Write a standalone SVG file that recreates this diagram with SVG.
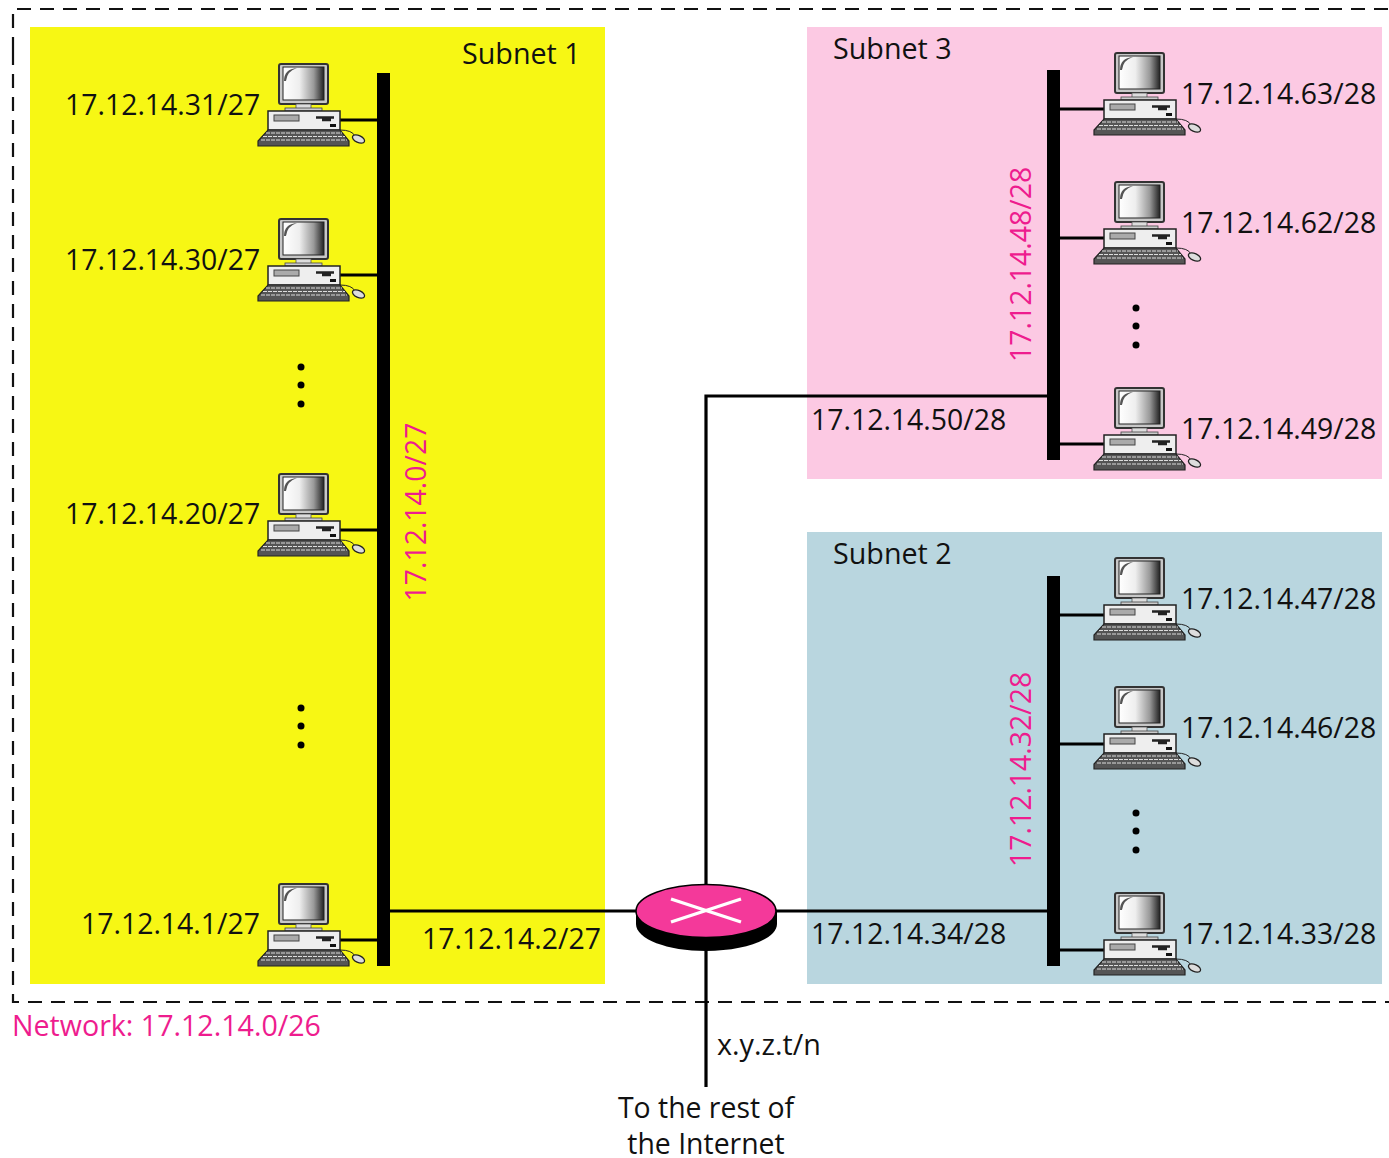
<svg xmlns="http://www.w3.org/2000/svg" xmlns:xlink="http://www.w3.org/1999/xlink" width="1389" height="1158" viewBox="0 0 1389 1158">
<style>
text{font-family:"Open Sans","Noto Sans",sans-serif;font-size:28.4px;fill:#111}
.m{fill:#ee1c8e}
.wide{font-size:28.7px}
.bus{fill:#000}
.w{stroke:#000;stroke-width:3.2;fill:none}
</style>
<defs>
<linearGradient id="scr" x1="0" x2="1" y1="0" y2="0"><stop offset="0" stop-color="#fff"/><stop offset=".4" stop-color="#eee"/><stop offset=".75" stop-color="#999"/><stop offset="1" stop-color="#222"/></linearGradient>
<g id="pc">
<rect x="279" y="64" width="49" height="40" rx="2" fill="#c8c8c8" stroke="#333" stroke-width="2"/>
<rect x="283" y="67" width="41" height="33" fill="url(#scr)" stroke="#222" stroke-width="1"/>
<path d="M284 81Q284 69 297 68Q287 71 286 81Z" fill="#555"/>
<rect x="296" y="104" width="15" height="5" fill="#ddd" stroke="#555" stroke-width=".8"/>
<rect x="285" y="108" width="37" height="3" fill="#ccc" stroke="#444" stroke-width=".8"/>
<rect x="268" y="111" width="72" height="19" fill="#eee" stroke="#222" stroke-width="1.5"/>
<rect x="274" y="115" width="25" height="6" fill="#aaa" stroke="#444"/>
<path d="M316 117.500h18M322 120h9" stroke="#222" stroke-width="2.400"/>
<rect x="330" y="124" width="6" height="3" fill="#111"/>
<path d="M268 130H340L349 141V146H258V141Z" fill="#555" stroke="#222" stroke-width="1.200"/>
<path d="M266 133h76M263 136.500h82M261 140h86" stroke="#ddd" stroke-width="1" stroke-dasharray="4 1"/>
<path d="M340 130q12 0 15 6" fill="none" stroke="#222"/>
<ellipse cx="358.500" cy="139" rx="6.500" ry="3.500" transform="rotate(25 358.500 139)" fill="#ddd" stroke="#222" stroke-width="1.300"/>
</g>
<g id="dots"><circle cx="0" cy="0" r="3.500"/><circle cx="0" cy="18" r="3.500"/><circle cx="0" cy="37" r="3.500"/></g>
</defs>
<rect width="1389" height="1158" fill="#fff"/>
<g id="subnets">
<rect id="subnet1" x="30" y="27" width="575" height="957" fill="#f7f714"/>
<rect id="subnet3" x="807" y="27" width="575" height="452" fill="#fcc9e3"/>
<rect id="subnet2" x="807" y="532" width="575" height="452" fill="#b9d6df"/>
</g>
<path id="network" d="M13 51V9H1389M13 51V1002H1389" fill="none" stroke="#111" stroke-width="2.200" stroke-dasharray="14 9"/>
<g id="connectors">
<path class="w" d="M340 120H378M340 275H378M340 530H378M340 940H378M390 911H637M776 911H1047M706 885V396H1047M706 950V1087M1060 109H1105M1060 238H1105M1060 444H1105M1060 615H1105M1060 744H1105M1060 950H1105"/>
<rect class="bus" x="377" y="73" width="13" height="893"/>
<rect class="bus" x="1047" y="70" width="13" height="390"/>
<rect class="bus" x="1047" y="576" width="13" height="390"/>
</g>
<g id="router">
<path d="M636 911V924C636 939 667 951 706 951S777 939 777 924V911Z" fill="#000"/>
<ellipse cx="706" cy="911" rx="70" ry="26.500" fill="#f4399a" stroke="#000" stroke-width="1.500"/>
<path d="M671 899L741 922M671 922L741 899" stroke="#fff" stroke-width="3.400"/>
</g>
<g id="pc1"><use href="#pc"/><text x="65" y="115">17.12.14.31/27</text></g>
<g id="pc2"><use href="#pc" transform="translate(0 155)"/><text x="65" y="270">17.12.14.30/27</text></g>
<g id="pc3"><use href="#pc" transform="translate(0 410)"/><text x="65" y="524">17.12.14.20/27</text></g>
<g id="pc4"><use href="#pc" transform="translate(0 820)"/><text x="81" y="934">17.12.14.1/27</text></g>
<g id="pc5"><use href="#pc" transform="translate(836 -11)"/><text x="1181" y="104">17.12.14.63/28</text></g>
<g id="pc6"><use href="#pc" transform="translate(836 118)"/><text x="1181" y="233">17.12.14.62/28</text></g>
<g id="pc7"><use href="#pc" transform="translate(836 324)"/><text x="1181" y="439">17.12.14.49/28</text></g>
<g id="pc8"><use href="#pc" transform="translate(836 494)"/><text x="1181" y="609">17.12.14.47/28</text></g>
<g id="pc9"><use href="#pc" transform="translate(836 623)"/><text x="1181" y="738">17.12.14.46/28</text></g>
<g id="pc10"><use href="#pc" transform="translate(836 829)"/><text x="1181" y="944">17.12.14.33/28</text></g>
<use href="#dots" x="301" y="367"/>
<use href="#dots" x="301" y="708"/>
<use href="#dots" x="1136" y="308"/>
<use href="#dots" x="1136" y="813"/>
<g id="labels">
<text class="wide" x="462" y="64">Subnet 1</text>
<text class="wide" x="833" y="59">Subnet 3</text>
<text class="wide" x="833" y="564">Subnet 2</text>
<text x="811" y="430">17.12.14.50/28</text>
<text x="811" y="944">17.12.14.34/28</text>
<text x="422" y="949">17.12.14.2/27</text>
<text class="m" transform="translate(425.500 601.500) rotate(-90)">17.12.14.0/27</text>
<text class="m" transform="translate(1031 362) rotate(-90)">17.12.14.48/28</text>
<text class="m" transform="translate(1031 867) rotate(-90)">17.12.14.32/28</text>
<text class="m" x="12" y="1036" style="font-size:28.6px">Network: 17.12.14.0/26</text>
<text class="wide" x="717" y="1055">x.y.z.t/n</text>
<text x="706" y="1118" text-anchor="middle">To the rest of</text>
<text x="706" y="1154" text-anchor="middle">the Internet</text>
</g>
</svg>
